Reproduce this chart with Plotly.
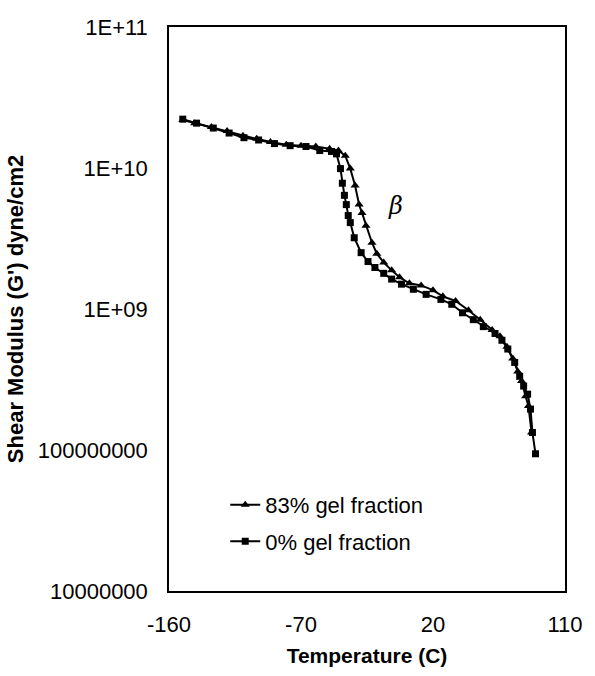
import plotly.graph_objects as go

# 83% gel fraction (triangles)
temp_83 = [-150.6, -142.5, -131.1, -120.4, -109.6, -100.2, -90.8, -80.1, -70.0, -59.9,
           -50.5, -44.5, -39.8, -36.4, -33.1, -30.4, -28.4, -25.7, -21.6, -18.3,
           -13.6, -8.2, -2.8, 3.9, 11.9, 20.0, 26.7, 35.4, 44.2, 52.2,
           60.3, 65.7, 70.4, 74.4, 77.8, 80.4, 83.1, 85.1, 87.2]
g_83 = [2.19e10, 2.08e10, 1.95e10, 1.83e10, 1.69e10, 1.61e10, 1.53e10, 1.46e10, 1.44e10, 1.42e10,
        1.37e10, 1.33e10, 1.22e10, 9.9e9, 7.5e9, 5.5e9, 4.8e9, 3.9e9, 2.95e9, 2.47e9,
        2.14e9, 1.88e9, 1.68e9, 1.52e9, 1.47e9, 1.36e9, 1.23e9, 1.14e9, 9.8e8, 8.4e8,
        7.1e8, 6.4e8, 5.4e8, 4.46e8, 3.61e8, 3.08e8, 2.41e8, 2.05e8, 1.33e8]

# 0% gel fraction (squares)
temp_0 = [-150.6, -141.2, -129.8, -119.0, -108.9, -98.9, -88.1, -77.4, -66.6, -57.2,
          -49.2, -45.8, -43.1, -41.8, -40.4, -39.1, -37.8, -36.4, -33.7, -29.0,
          -24.3, -19.6, -13.6, -8.2, -1.5, 6.6, 15.3, 25.4, 32.8, 40.1,
          47.5, 54.3, 62.3, 67.0, 71.0, 75.7, 79.1, 81.8, 84.5, 86.5,
          87.8, 89.9]
g_0 = [2.22e10, 2.08e10, 1.92e10, 1.77e10, 1.64e10, 1.58e10, 1.49e10, 1.44e10, 1.42e10, 1.33e10,
       1.31e10, 1.26e10, 9.9e9, 7.8e9, 6.4e9, 5.5e9, 4.6e9, 4.1e9, 3.2e9, 2.51e9,
       2.17e9, 1.97e9, 1.79e9, 1.63e9, 1.50e9, 1.38e9, 1.27e9, 1.17e9, 1.08e9, 9.4e8,
       8.4e8, 7.5e8, 6.7e8, 6.0e8, 5.2e8, 4.18e8, 3.33e8, 2.84e8, 2.49e8, 1.95e8,
       1.33e8, 9.4e7]

y_tickvals = [1e7, 1e8, 1e9, 1e10, 1e11]
y_ticktext = ["10000000", "100000000", "1E+09", "1E+10", "1E+11"]
x_tickvals = [-160, -70, 20, 110]
x_ticktext = ["-160", "-70", "20", "110"]

FONT = "Liberation Sans, Arial, sans-serif"

fig = go.Figure()
fig.add_trace(go.Scatter(
    x=temp_83, y=g_83, mode="lines+markers", name="83% gel fraction",
    legendgroup="a",
    line=dict(color="black", width=2),
    marker=dict(symbol="triangle-up", size=8, color="black"),
))
fig.add_trace(go.Scatter(
    x=temp_0, y=g_0, mode="lines+markers", name="0% gel fraction",
    legendgroup="b",
    line=dict(color="black", width=2),
    marker=dict(symbol="square", size=7, color="black"),
))

fig.add_annotation(x=-5.5, y=9.73, xref="x", yref="y", text="<i>β</i>",
                   showarrow=False, font=dict(family="DejaVu Serif, serif", size=24, color="black"))

fig.update_layout(
    width=595, height=676,
    margin=dict(l=169, r=24, t=27, b=79),
    paper_bgcolor="white", plot_bgcolor="white",
    font=dict(family=FONT, color="black"),
    showlegend=True,
    legend=dict(x=0.142, y=0.19, xanchor="left", yanchor="top",
                font=dict(size=22, family=FONT), bgcolor="rgba(0,0,0,0)",
                tracegroupgap=5),
    xaxis=dict(range=[-160, 110], tickvals=x_tickvals, ticktext=x_ticktext, ticks="",
               showgrid=False, zeroline=False,
               showline=True, linecolor="black", linewidth=1.5, mirror=True,
               tickfont=dict(size=22), ticklabelstandoff=13,
               title=dict(text="<b>Temperature (C)</b>", font=dict(size=21), standoff=12)),
    yaxis=dict(type="log", range=[7, 11], tickvals=y_tickvals, ticktext=y_ticktext, ticks="",
               showgrid=False, zeroline=False,
               showline=True, linecolor="black", linewidth=1.5, mirror=True,
               tickfont=dict(size=22), ticklabelstandoff=15,
               title=dict(text="<b>Shear Modulus (G') dyne/cm2</b>", font=dict(size=22), standoff=8)),
)

fig.write_html("out.html")
